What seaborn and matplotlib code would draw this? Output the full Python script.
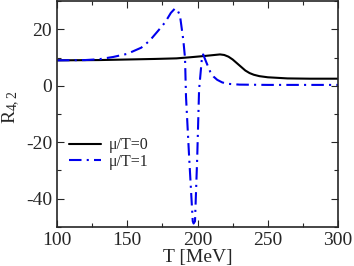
import numpy as np
import pandas as pd
import seaborn as sns
import matplotlib.pyplot as plt
from matplotlib.ticker import MultipleLocator

# mu/T = 0
T0 = [100, 130, 150, 170, 185, 195, 204, 210, 216, 219, 222, 225, 228, 231, 234,
      237, 240, 244, 250, 264, 280, 300]
R0 = [9.0, 9.1, 9.3, 9.5, 9.7, 10.1, 10.5, 10.8, 11.1, 10.9, 10.3, 9.3, 8.0, 6.7, 5.4,
      4.5, 3.9, 3.4, 3.0, 2.6, 2.5, 2.5]

# mu/T = 1
T1 = [100, 120, 130, 140, 150, 160, 166, 172, 177, 181, 184, 186, 187.5, 189.9, 191.1,
      191.8, 194.0, 196.6, 197.2, 198.2, 199.8, 201.1, 203.0, 204.0, 206.5, 209.0,
      211.5, 214.0, 217.5, 221.0, 230, 250, 300]
R1 = [9.0, 9.1, 9.4, 10.2, 11.3, 13.5, 16.0, 19.5, 22.5, 25.8, 27.4, 26.5, 24.9, 16.1, 9.8,
      -3.9, -25.0, -48.0, -48.8, -48.0, -25.0, -1.4, 9.1, 11.1, 8.0, 5.0,
      3.2, 2.1, 1.2, 0.7, 0.4, 0.3, 0.3]

df = pd.concat([
    pd.DataFrame({"T": T0, "R": R0, "curve": "μ/T=0"}),
    pd.DataFrame({"T": T1, "R": R1, "curve": "μ/T=1"}),
])

sns.set_style("ticks")
plt.rcParams["font.family"] = ["Liberation Serif", "DejaVu Serif"]
plt.rcParams["mathtext.fontset"] = "custom"
plt.rcParams["mathtext.rm"] = "Liberation Serif"
plt.rcParams["mathtext.it"] = "Liberation Serif:italic"
plt.rcParams["mathtext.default"] = "regular"
plt.rcParams["axes.unicode_minus"] = False

fig = plt.figure(figsize=(3.54, 2.66), dpi=100)
ax = fig.add_axes([0.161, 0.147, 0.794, 0.849])

sns.lineplot(data=df, x="T", y="R", hue="curve", style="curve",
             palette={"μ/T=0": "black", "μ/T=1": "#0000ee"},
             dashes={"μ/T=0": "", "μ/T=1": (6, 2.5, 1, 2.5)},
             estimator=None, linewidth=1.5, ax=ax)

ax.set_xlim(100, 300)
ax.set_ylim(-50, 30)
ax.xaxis.set_major_locator(MultipleLocator(50))
ax.xaxis.set_minor_locator(MultipleLocator(25))
ax.yaxis.set_major_locator(MultipleLocator(20))
ax.yaxis.set_minor_locator(MultipleLocator(10))
ax.tick_params(which="both", direction="in", top=True, right=True, labelsize=14)
ax.tick_params(which="major", length=5, width=0.8)
ax.tick_params(which="minor", length=3, width=0.8)
for s in ax.spines.values():
    s.set_linewidth(1.2)

ax.set_xlabel("T [MeV]", fontsize=14, labelpad=0)
ax.set_ylabel(r"R$_{4,2}$", fontsize=14)
ax.yaxis.set_label_coords(-0.125, 0.53)

ax.legend(title=None, loc="upper left", bbox_to_anchor=(0.02, 0.425), frameon=False,
          fontsize=11.5, handlelength=2.0, handletextpad=0.5, labelspacing=0.02,
          borderaxespad=0)

fig.savefig("out.png", dpi=100)
